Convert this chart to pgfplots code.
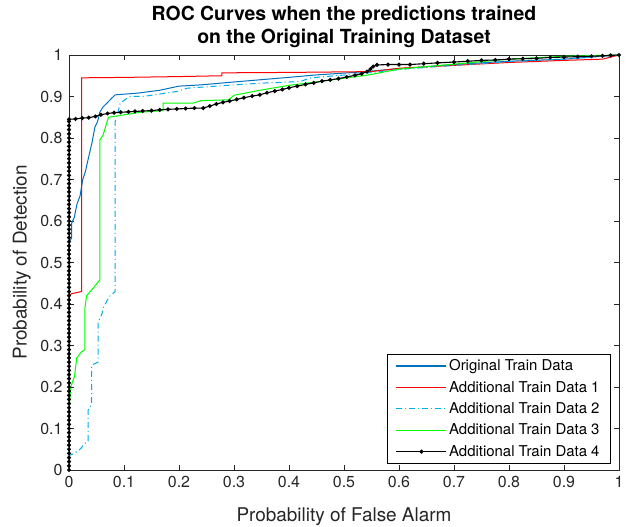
\documentclass[border=0pt]{standalone}
\usepackage{fontspec}
\setmainfont{TeX Gyre Heros}
\usepackage{pgfplots}
\pgfplotsset{compat=1.18}
\definecolor{mblue}{rgb}{0,0.447,0.741}
\definecolor{axgray}{rgb}{0.15,0.15,0.15}

\begin{document}
\begin{tikzpicture}
\begin{axis}[
  width=550bp, height=415bp, scale only axis,
  xmin=0, xmax=1, ymin=0, ymax=1,
  xtick={0,0.1,0.2,0.3,0.4,0.5,0.6,0.7,0.8,0.9,1},
  ytick={0,0.1,0.2,0.3,0.4,0.5,0.6,0.7,0.8,0.9,1},
  /pgf/number format/assume math mode=true,
  /pgf/number format/fixed,
  tick label style={font=\fontsize{16}{19}\selectfont, text=axgray},
  xticklabel style={yshift=-2.5bp},
  yticklabel style={xshift=-3bp},
  axis line style={draw=axgray, line width=0.6bp},
  major tick style={draw=axgray, line width=0.6bp},
  major tick length=5.5bp,
  tick align=inside,
  xlabel={Probability of False Alarm},
  ylabel={Probability of Detection},
  label style={font=\fontsize{19}{22}\selectfont, text=axgray},
  xlabel style={at={(axis description cs:0.5,-0.113)}, anchor=center},
  ylabel style={at={(axis description cs:-0.086,0.5)}, anchor=center, rotate=0},
  title={ROC Curves when the predictions trained\\on the Original Training Dataset},
  title style={at={(axis description cs:0.5,1)}, anchor=south, align=center,
    inner sep=0pt, yshift=1.5bp, font=\bfseries\fontsize{19.5}{23}\selectfont},
  legend style={at={(0.985,0.017)}, anchor=south east,
    font=\fontsize{15}{18}\selectfont,
    row sep=5bp, inner xsep=9bp, inner ysep=3bp},
  legend cell align=left,
  legend image code/.code={\draw[#1, line width=1.3bp] (0bp,0bp) -- (50bp,0bp);},
]
% Original Train Data
\addplot[draw=mblue, line width=1bp] coordinates {
(0,0) (0,0.547) (0.005,0.56) (0.005,0.595) (0.01,0.61) (0.012,0.625) (0.015,0.643)
(0.02,0.66) (0.025,0.7) (0.03,0.72) (0.035,0.75) (0.042,0.79) (0.047,0.826)
(0.052,0.84) (0.056,0.862) (0.062,0.875) (0.069,0.884) (0.077,0.895) (0.084,0.904)
(0.124,0.908) (0.165,0.915) (0.2,0.925) (0.24,0.928) (0.3,0.935) (0.39,0.945)
(0.45,0.952) (0.53,0.959) (0.6,0.967) (0.7,0.977) (0.8,0.985) (0.9,0.99) (1,1)};
% Additional Train Data 1
\addplot[draw=red, line width=1bp] coordinates {
(0,0) (0,0.42) (0.005,0.425) (0.023,0.43) (0.023,0.945) (0.1,0.946) (0.2,0.948)
(0.278,0.95) (0.278,0.957) (0.4,0.958) (0.55,0.96) (0.6,0.968) (0.7,0.975)
(0.8,0.982) (0.9,0.987) (0.97,0.99) (1,1)};
% Additional Train Data 2
\addplot[draw=cyan, line width=1bp, dash pattern=on 6bp off 3bp on 1bp off 3bp] coordinates {
(0,0) (0,0.035) (0.01,0.04) (0.02,0.05) (0.03,0.065) (0.035,0.07) (0.035,0.145)
(0.038,0.15) (0.041,0.16) (0.041,0.25) (0.045,0.255) (0.053,0.26) (0.053,0.357)
(0.058,0.37) (0.062,0.385) (0.062,0.39) (0.07,0.41) (0.075,0.42) (0.084,0.43)
(0.084,0.84) (0.087,0.85) (0.093,0.884) (0.11,0.9) (0.135,0.9) (0.16,0.905)
(0.196,0.912) (0.215,0.92) (0.3,0.928) (0.347,0.932) (0.42,0.936) (0.44,0.945)
(0.53,0.955) (0.6,0.965) (0.7,0.975) (0.8,0.984) (0.9,0.99) (1,1)};
% Additional Train Data 3
\addplot[draw=green, line width=1bp] coordinates {
(0,0) (0,0.137) (0.003,0.2) (0.01,0.225) (0.014,0.27) (0.017,0.275) (0.023,0.285)
(0.029,0.29) (0.029,0.39) (0.032,0.42) (0.042,0.435) (0.056,0.458) (0.056,0.795)
(0.062,0.807) (0.069,0.838) (0.072,0.85) (0.096,0.855) (0.13,0.862) (0.171,0.866)
(0.171,0.884) (0.226,0.884) (0.24,0.89) (0.29,0.892) (0.3,0.903) (0.347,0.915)
(0.4,0.927) (0.45,0.935) (0.545,0.952) (0.6,0.966) (0.7,0.978) (0.8,0.99)
(0.9,0.997) (1,1)};
% Additional Train Data 4
\addplot[black, line width=1.1bp, mark=*, mark size=1.45bp,
  legend image code/.code={\draw[black, line width=1.1bp] (0bp,0bp) -- (50bp,0bp);
    \fill[black] (25bp,0bp) circle (1.45bp);}] coordinates {
(0,0) (0,0.01) (0,0.02) (0,0.03) (0,0.04) (0,0.05) (0,0.06) (0,0.07) (0,0.08) (0,0.09)
(0,0.10) (0,0.11) (0,0.12) (0,0.13) (0,0.14) (0,0.15) (0,0.16) (0,0.17) (0,0.18) (0,0.19)
(0,0.20) (0,0.21) (0,0.22) (0,0.23) (0,0.24) (0,0.25) (0,0.26) (0,0.27) (0,0.28) (0,0.29)
(0,0.30) (0,0.31) (0,0.32) (0,0.33) (0,0.34) (0,0.35) (0,0.36) (0,0.37) (0,0.38) (0,0.39)
(0,0.40) (0,0.41) (0,0.42) (0,0.43) (0,0.44) (0,0.45) (0,0.46) (0,0.47) (0,0.48) (0,0.49)
(0,0.50) (0,0.51) (0,0.52) (0,0.53) (0,0.54) (0,0.55) (0,0.56) (0,0.57) (0,0.58) (0,0.59)
(0,0.60) (0,0.61) (0,0.62) (0,0.63) (0,0.64) (0,0.65) (0,0.66) (0,0.67) (0,0.68) (0,0.69)
(0,0.70) (0,0.71) (0,0.72) (0,0.73) (0,0.74) (0,0.75) (0,0.76) (0,0.77) (0,0.78) (0,0.79)
(0,0.80) (0,0.81) (0,0.82) (0,0.83) (0,0.84) (0,0.845)
(0.012,0.846) (0.024,0.848) (0.036,0.849) (0.048,0.852) (0.058,0.856) (0.07,0.859)
(0.082,0.861) (0.094,0.862) (0.108,0.863) (0.12,0.864) (0.134,0.865) (0.15,0.866)
(0.165,0.868) (0.18,0.869) (0.196,0.87) (0.212,0.871) (0.228,0.872) (0.244,0.872)
(0.256,0.877) (0.268,0.882) (0.28,0.886) (0.292,0.889) (0.305,0.893) (0.318,0.897)
(0.333,0.901) (0.347,0.904) (0.36,0.909) (0.374,0.913) (0.388,0.917) (0.4,0.921)
(0.415,0.925) (0.43,0.929) (0.445,0.933) (0.46,0.937) (0.475,0.94) (0.49,0.943)
(0.505,0.947) (0.52,0.951) (0.532,0.955) (0.542,0.96) (0.548,0.966) (0.553,0.972)
(0.56,0.976) (0.58,0.977) (0.6,0.977) (0.62,0.977) (0.645,0.979) (0.67,0.981)
(0.7,0.983) (0.725,0.985) (0.75,0.987) (0.775,0.988) (0.8,0.99) (0.825,0.991)
(0.85,0.992) (0.875,0.994) (0.9,0.995) (0.925,0.996) (0.95,0.997) (0.97,0.998)
(0.985,0.999) (1,1)};
\legend{Original Train Data, Additional Train Data 1, Additional Train Data 2,
  Additional Train Data 3, Additional Train Data 4}
\end{axis}
\pgfresetboundingbox
\path (current axis.south west) ++(-69bp,-57bp) coordinate (bbA);
\path (current axis.north east) ++(13bp,55bp) coordinate (bbB);
\useasboundingbox (bbA) rectangle (bbB);
\end{tikzpicture}
\end{document}
